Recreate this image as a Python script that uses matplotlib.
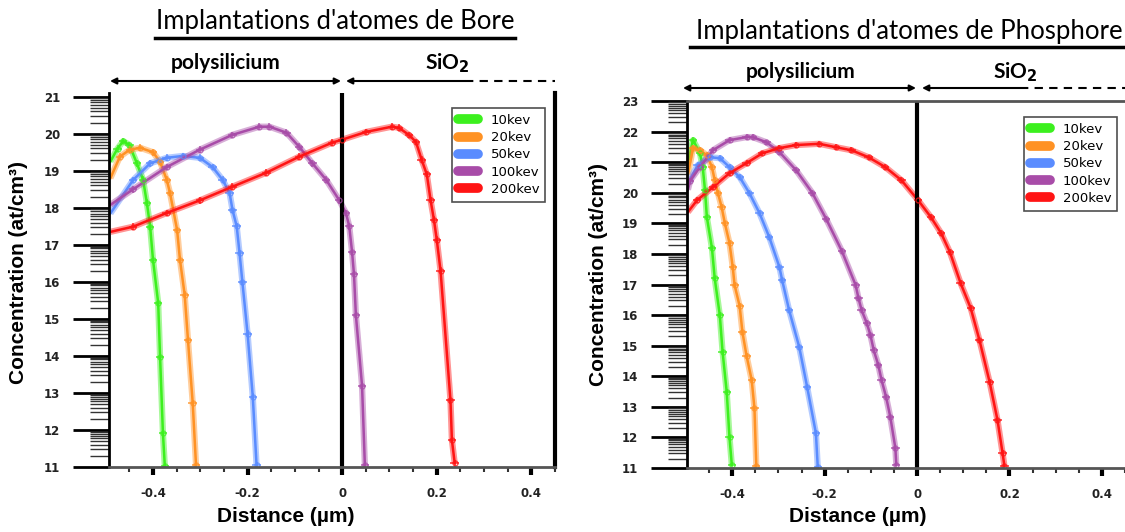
import numpy as np
import matplotlib
matplotlib.use('Agg')
import matplotlib.pyplot as plt
from matplotlib.lines import Line2D

# ---- données (log10 de la concentration) ----
energies = ['10kev', '20kev', '50kev', '100kev', '200kev']
couleurs = ['#3cf01e', '#ff9224', '#5a8cff', '#a84ca8', '#ff1414']

# Bore
bore_x_10 = [-0.49, -0.475, -0.463, -0.45, -0.434, -0.421, -0.413, -0.406, -0.4, -0.389, -0.385, -0.379, -0.375]
bore_y_10 = [19.25, 19.6, 19.8, 19.7, 19.2, 18.76, 18.14, 17.49, 16.6, 15.43, 13.97, 11.92, 11.03]
bore_x_20 = [-0.49, -0.47, -0.449, -0.427, -0.40, -0.385, -0.371, -0.364, -0.349, -0.343, -0.333, -0.326, -0.316, -0.309]
bore_y_20 = [18.8, 19.38, 19.57, 19.62, 19.5, 19.24, 18.76, 18.4, 17.4, 16.6, 15.65, 14.43, 12.73, 11.05]
bore_x_50 = [-0.49, -0.442, -0.406, -0.371, -0.337, -0.301, -0.274, -0.253, -0.238, -0.232, -0.223, -0.217, -0.211, -0.2, -0.189, -0.181]
bore_y_50 = [17.85, 18.75, 19.2, 19.35, 19.4, 19.35, 19.1, 18.76, 18.4, 17.95, 17.5, 16.78, 16.0, 14.6, 12.9, 11.05]
bore_x_100 = [-0.49, -0.442, -0.371, -0.301, -0.232, -0.175, -0.154, -0.118, -0.091, -0.063, -0.034, -0.006, 0.008, 0.015, 0.021, 0.025, 0.029, 0.042, 0.048]
bore_y_100 = [18.08, 18.5, 19.1, 19.57, 19.97, 20.19, 20.19, 20.03, 19.65, 19.2, 18.76, 18.2, 17.86, 17.5, 16.8, 16.2, 15.1, 13.2, 11.05]
bore_x_200 = [-0.49, -0.442, -0.371, -0.301, -0.232, -0.16, -0.091, -0.021, 0.0, 0.051, 0.105, 0.12, 0.141, 0.156, 0.168, 0.179, 0.187, 0.194, 0.2, 0.208, 0.229, 0.232, 0.238]
bore_y_200 = [17.35, 17.49, 17.86, 18.2, 18.57, 18.95, 19.38, 19.76, 19.84, 20.05, 20.19, 20.16, 19.97, 19.78, 19.3, 18.9, 18.2, 17.68, 17.14, 16.3, 12.8, 11.73, 11.1]

# Phosphore
phos_x_10 = [-0.496, -0.485, -0.47, -0.464, -0.459, -0.455, -0.444, -0.438, -0.427, -0.421, -0.412, -0.406, -0.401]
phos_y_10 = [20.97, 21.72, 21.3, 20.84, 20.08, 19.2, 18.19, 17.2, 16.0, 14.8, 13.48, 12.0, 11.1]
phos_x_20 = [-0.496, -0.485, -0.47, -0.455, -0.444, -0.438, -0.431, -0.423, -0.416, -0.406, -0.399, -0.395, -0.384, -0.378, -0.369, -0.358, -0.352, -0.348]
phos_y_20 = [20.6, 21.46, 21.39, 21.23, 20.84, 20.41, 19.99, 19.53, 19.0, 18.35, 17.57, 16.98, 16.29, 15.44, 14.66, 13.88, 12.96, 11.07]
phos_x_50 = [-0.496, -0.475, -0.448, -0.427, -0.406, -0.384, -0.363, -0.341, -0.32, -0.298, -0.292, -0.277, -0.255, -0.238, -0.219, -0.215]
phos_y_50 = [20.3, 20.9, 21.16, 21.13, 20.84, 20.51, 19.99, 19.33, 18.55, 17.57, 17.14, 16.16, 14.95, 13.65, 12.14, 11.03]
phos_x_100 = [-0.496, -0.491, -0.47, -0.442, -0.406, -0.369, -0.356, -0.326, -0.298, -0.262, -0.227, -0.197, -0.163, -0.133, -0.127, -0.12, -0.109, -0.101, -0.094, -0.084, -0.077, -0.067, -0.058, -0.047, -0.045]
phos_y_100 = [20.1, 20.4, 20.84, 21.39, 21.72, 21.82, 21.82, 21.65, 21.33, 20.74, 20.0, 19.15, 18.1, 16.98, 16.56, 16.16, 15.74, 15.35, 14.86, 14.37, 13.88, 13.32, 12.67, 11.65, 11.1]
phos_x_200 = [-0.496, -0.476, -0.442, -0.406, -0.369, -0.335, -0.298, -0.262, -0.212, -0.176, -0.142, -0.105, -0.069, -0.034, 0.002, 0.03, 0.052, 0.071, 0.094, 0.116, 0.135, 0.157, 0.174, 0.185, 0.189]
phos_y_200 = [19.37, 19.76, 20.18, 20.64, 20.97, 21.29, 21.46, 21.56, 21.6, 21.49, 21.39, 21.16, 20.84, 20.41, 19.76, 19.2, 18.68, 18.06, 17.05, 16.23, 15.18, 13.81, 12.57, 11.49, 11.07]

bore = [(bore_x_10, bore_y_10), (bore_x_20, bore_y_20), (bore_x_50, bore_y_50),
        (bore_x_100, bore_y_100), (bore_x_200, bore_y_200)]
phos = [(phos_x_10, phos_y_10), (phos_x_20, phos_y_20), (phos_x_50, phos_y_50),
        (phos_x_100, phos_y_100), (phos_x_200, phos_y_200)]

x_ticks = [-0.4, -0.2, 0, 0.2, 0.4]
x_ticklabels = ['-0.4', '-0.2', '0', '0.2', '0.4']

W, H = 1125, 532
fig = plt.figure(figsize=(W / 100, H / 100), dpi=100)
PT = 0.72  # 1 px en points (dpi 100)


def fx(px):
    return px / W


def fy(py):
    return 1 - py / H


def trace(ax, series, ymax, xlim, leg_pos):
    for (x, y), c, lab in zip(series, couleurs, energies):
        ax.plot(x, y, color=c, lw=4.5, alpha=0.45, solid_capstyle='butt')
        ax.plot(x, y, color=c, lw=1.8)
        ax.errorbar(x[1:], y[1:], xerr=0.009, yerr=0.09, fmt='o', ms=3.5, mfc='none',
                    mec=c, ecolor=c, elinewidth=1.3, alpha=0.75)
    ax.axvline(0, color='black', lw=3)
    ax.set_xlim(*xlim)
    ax.set_ylim(11, ymax)
    # graduations
    ax.set_yticks(range(11, int(ymax) + 1))
    ax.set_yticks([d + np.log10(k) for d in range(11, int(ymax)) for k in range(2, 10)], minor=True)
    ax.set_xticks(x_ticks)
    ax.set_xticklabels(x_ticklabels)
    ax.set_xticks(np.arange(-0.45, 0.46, 0.05), minor=True)
    ax.yaxis.set_tick_params(which='major', direction='out', length=36 * PT, width=2,
                             pad=13 * PT, labelsize=8.5, color='black')
    ax.yaxis.set_tick_params(which='minor', direction='out', length=19 * PT, width=1, color='#333')
    ax.xaxis.set_tick_params(which='major', direction='out', length=8 * PT, width=3,
                             pad=12 * PT, labelsize=8.5)
    ax.xaxis.set_tick_params(which='minor', direction='out', length=5 * PT, width=1.5, color='#333')
    for lab in ax.get_xticklabels() + ax.get_yticklabels():
        lab.set_fontweight('bold')
        lab.set_color('#222')
    ax.spines['bottom'].set_color('#555')
    ax.spines['bottom'].set_linewidth(2)
    ax.spines['left'].set_linewidth(2)
    handles = [Line2D([], [], color=c, lw=7, solid_capstyle='round') for c in couleurs]
    leg = ax.legend(handles, energies, loc='upper left', bbox_to_anchor=leg_pos,
                    bbox_transform=fig.transFigure, fancybox=False, fontsize=9.5,
                    handlelength=1.5, labelspacing=0.32, borderpad=0.45, handletextpad=1.0,
                    borderaxespad=0)
    leg.get_frame().set_edgecolor('#222')
    leg.get_frame().set_linewidth(1.2)


ax1 = fig.add_axes([fx(109), fy(467), fx(555 - 109), (467 - 93) / H])
trace(ax1, bore, 21.1, (-0.493, 0.446), (fx(452), fy(108)))
ax1.spines['top'].set_visible(False)
ax1.spines['right'].set_linewidth(3)

ax2 = fig.add_axes([fx(687), fy(468), fx(W - 687), (468 - 101) / H])
trace(ax2, phos, 23, (-0.498, 0.442), (fx(1024), fy(117)))
ax2.spines['right'].set_visible(False)
ax2.spines['top'].set_color('#555')
ax2.spines['top'].set_linewidth(2)

# textes
titre_font = 'Lato'
for cx, cy, txt, x0, x1, uy in [(335, 22, "Implantations d'atomes de Bore", 155, 515, 38),
                                (909, 32, "Implantations d'atomes de Phosphore", 690, 1123, 47)]:
    fig.text(fx(cx), fy(cy), txt, ha='center', va='center', fontsize=18.5, family=titre_font)
    fig.add_artist(Line2D([fx(x0), fx(x1)], [fy(uy), fy(uy)], color='black', lw=2.5))

for (pcx, scx, ty, ay, a0, a1, a2, s1, s2) in [(226, 447, 63, 81, 110, 341, 346, 465, 555),
                                               (801, 1015, 72, 88, 683, 916, 922, 1020, 1125)]:
    fig.text(fx(pcx), fy(ty), 'polysilicium', ha='center', va='center', fontsize=15,
             family=titre_font, weight='bold')
    fig.text(fx(scx), fy(ty), r'SiO$_\mathbf{2}$', ha='center', va='center', fontsize=15,
             family=titre_font, weight='bold')
    fig.add_artist(plt.Annotation('', xy=(fx(a0), fy(ay)), xytext=(fx(a1), fy(ay)),
                                  xycoords='figure fraction', textcoords='figure fraction',
                                  arrowprops=dict(arrowstyle='<|-|>', color='black', lw=1.5,
                                                  mutation_scale=9, shrinkA=0, shrinkB=0)))
    fig.add_artist(plt.Annotation('', xy=(fx(a2), fy(ay)), xytext=(fx(s1), fy(ay)),
                                  xycoords='figure fraction', textcoords='figure fraction',
                                  arrowprops=dict(arrowstyle='-|>', color='black', lw=1.5,
                                                  mutation_scale=9, shrinkA=0, shrinkB=0)))
    fig.add_artist(Line2D([fx(s1), fx(s2)], [fy(ay), fy(ay)], color='black', lw=1.5, ls=(0, (4, 3))))

for cx, cy in [(19, 273), (598, 275)]:
    fig.text(fx(cx), fy(cy), 'Concentration (at/cm³)', rotation=90, ha='center', va='center',
             fontsize=15, family='Liberation Sans', weight='bold')
for cx, cy in [(286, 517), (858, 517)]:
    fig.text(fx(cx), fy(cy), 'Distance (µm)', ha='center', va='center', fontsize=15,
             family='Liberation Sans', weight='bold')

fig.savefig('out.png', dpi=100)
